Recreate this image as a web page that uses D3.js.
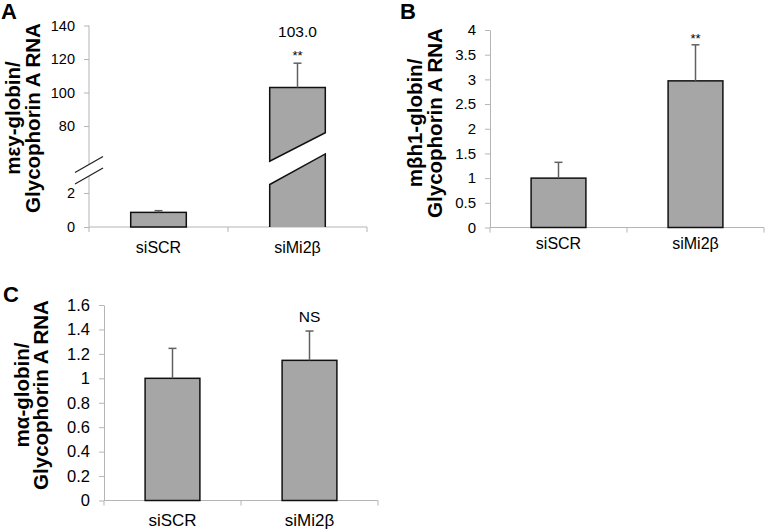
<!DOCTYPE html>
<html>
<head>
<meta charset="utf-8">
<script src="https://cdn.jsdelivr.net/npm/d3@7"></script>
<style>
  body { margin: 0; background: #fff; }
  svg text { font-family: "Liberation Sans", Arial, sans-serif; fill: #000; }
  .axis path, .axis line { stroke: #b5b5b5; }
</style>
</head>
<body>
<div id="chart"></div>
<script>
var categories = ["siSCR", "siMi2β"];

// panel A : mεy-globin (broken axis)
var epsValues = [0.86, 103.0];
var epsErrors = [0.1, 14.5];
var epsTicksLow = [0, 2];
var epsTicksHigh = [80, 100, 120, 140];
var epsNotes = ["", "**"];

// panel B : mβh1-globin
var bh1Values = [1.0, 2.97];
var bh1Errors = [0.32, 0.73];
var bh1Ticks = [0, 0.5, 1, 1.5, 2, 2.5, 3, 3.5, 4];
var bh1Notes = ["", "**"];

// panel C : mα-globin
var alphaValues = [1.0, 1.147];
var alphaErrors = [0.245, 0.24];
var alphaTicks = [0, 0.2, 0.4, 0.6, 0.8, 1, 1.2, 1.4, 1.6];
var alphaNotes = ["", "NS"];

var W = 765, H = 530;
var svg = d3.select("#chart").append("svg")
    .attr("width", W)
    .attr("height", H);

function xAxisLine(g, x, y0) {
  var r = x.range();
  g.append("line")
    .attr("x1", r[0]).attr("x2", r[1])
    .attr("y1", y0).attr("y2", y0)
    .attr("stroke", "#b5b5b5");
  var bounds = [r[0], r[0] + x.step(), r[1]];
  g.selectAll(".xt").data(bounds).enter().append("line")
    .attr("x1", d => d).attr("x2", d => d)
    .attr("y1", y0).attr("y2", y0 + 5)
    .attr("stroke", "#b5b5b5");
}

function xLabels(g, x, y0, off, size) {
  g.selectAll(".xl").data(categories).enter().append("text")
    .attr("x", d => x(d) + x.bandwidth() / 2)
    .attr("y", y0 + off)
    .attr("text-anchor", "middle")
    .style("font-size", size)
    .text(d => d);
}

function yTitle(g, lines, cy, x1, x2) {
  [x1, x2].forEach(function (bx, i) {
    g.append("text")
      .attr("transform", "translate(" + bx + "," + cy + ") rotate(-90)")
      .attr("text-anchor", "middle")
      .style("font-size", "20.5px")
      .style("font-weight", "bold")
      .text(lines[i]);
  });
}

function panelLetter(txt, x, y) {
  svg.append("text")
    .attr("x", x).attr("y", y)
    .style("font-size", "22px")
    .style("font-weight", "bold")
    .text(txt);
}

function errorBars(g, x, yFor, values, errors) {
  categories.forEach(function (c, i) {
    var cx = x(c) + x.bandwidth() / 2;
    var y = yFor(i);
    var top = y(values[i] + errors[i]);
    g.append("line")
      .attr("x1", cx).attr("x2", cx)
      .attr("y1", y(values[i])).attr("y2", top)
      .attr("stroke", "#606060").attr("stroke-width", 1.5);
    g.append("line")
      .attr("x1", cx - 4).attr("x2", cx + 4)
      .attr("y1", top).attr("y2", top)
      .attr("stroke", "#606060").attr("stroke-width", 1.5);
  });
}

function notes(g, x, yFor, values, errors, txt, size, gap) {
  categories.forEach(function (c, i) {
    if (!txt[i]) return;
    var y = yFor(i);
    g.append("text")
      .attr("x", x(c) + x.bandwidth() / 2)
      .attr("y", y(values[i] + errors[i]) - gap)
      .attr("text-anchor", "middle")
      .style("font-size", size)
      .text(txt[i]);
  });
}

// simple bar panel (B and C)
function simplePanel(opt) {
  var g = svg.append("g");
  var x = d3.scaleBand().domain(categories)
      .range([opt.left, opt.right])
      .paddingInner(0.6).paddingOuter(0.3);
  var y = d3.scaleLinear().domain([0, d3.max(opt.ticks)])
      .range([opt.bottom, opt.top]);

  g.append("g")
    .attr("class", "axis")
    .attr("transform", "translate(" + opt.left + ",0)")
    .call(d3.axisLeft(y).tickValues(opt.ticks).tickSize(5).tickSizeOuter(0)
      .tickPadding(9).tickFormat(d => String(d)))
    .selectAll("text").style("font-size", opt.tickSize);

  xAxisLine(g, x, opt.bottom);

  g.selectAll(".bar").data(opt.values).enter().append("rect")
    .attr("x", (d, i) => x(categories[i]))
    .attr("width", x.bandwidth())
    .attr("y", d => y(d))
    .attr("height", d => opt.bottom - y(d))
    .attr("fill", "#a6a6a6")
    .attr("stroke", "#111")
    .attr("stroke-width", 1.5);

  errorBars(g, x, () => y, opt.values, opt.errors);
  notes(g, x, () => y, opt.values, opt.errors, opt.notes, opt.noteSize, opt.noteGap);
  xLabels(g, x, opt.bottom, opt.labelOff, opt.labelSize);
  yTitle(g, opt.title, opt.titleY, opt.titleX[0], opt.titleX[1]);
}

// ---------- panel A (broken axis) ----------
(function () {
  var g = svg.append("g");
  var left = 89, right = 367, bottom = 227;
  var x = d3.scaleBand().domain(categories)
      .range([left, right])
      .paddingInner(0.6).paddingOuter(0.3);
  var yLow = d3.scaleLinear().domain([0, 4]).range([bottom, 159]);
  var yHigh = d3.scaleLinear().domain([60, 140]).range([159.5, 25.5]);
  var yFor = i => (epsValues[i] > 50 ? yHigh : yLow);

  [[yLow, epsTicksLow], [yHigh, epsTicksHigh]].forEach(function (p) {
    g.append("g")
      .attr("class", "axis")
      .attr("transform", "translate(" + left + ",0)")
      .call(d3.axisLeft(p[0]).tickValues(p[1]).tickSize(5).tickPadding(9).tickFormat(d => String(d)))
      .call(a => a.select(".domain").remove())
      .selectAll("text").style("font-size", "14.5px");
  });

  // axis line in two pieces with the break marks
  g.append("line").attr("x1", left).attr("x2", left)
    .attr("y1", yHigh(140)).attr("y2", yHigh(57))
    .attr("stroke", "#b5b5b5");
  g.append("line").attr("x1", left).attr("x2", left)
    .attr("y1", yLow(0)).attr("y2", yLow(3))
    .attr("stroke", "#b5b5b5");
  [yHigh(57), yLow(3)].forEach(function (yy) {
    g.append("line")
      .attr("x1", left - 14).attr("y1", yy + 8)
      .attr("x2", left + 14).attr("y2", yy - 8)
      .attr("stroke", "#222").attr("stroke-width", 1.2);
  });

  xAxisLine(g, x, bottom);

  var bw = x.bandwidth();
  categories.forEach(function (c, i) {
    var x0 = x(c), x1 = x0 + bw, v = epsValues[i];
    if (v < 50) {
      g.append("rect")
        .attr("x", x0).attr("width", bw)
        .attr("y", yLow(v)).attr("height", bottom - yLow(v))
        .attr("fill", "#a6a6a6").attr("stroke", "#111").attr("stroke-width", 1.5);
    } else {
      // lower piece, slanted top
      g.append("path")
        .attr("d", d3.line()([[x0, bottom], [x0, yLow(2.5)], [x1, yLow(4.3)], [x1, bottom]]))
        .attr("fill", "#a6a6a6").attr("stroke", "#111").attr("stroke-width", 1.5);
      // upper piece, slanted bottom
      g.append("path")
        .attr("d", d3.line()([[x0, yHigh(59)], [x0, yHigh(v)], [x1, yHigh(v)], [x1, yHigh(76)]]) + "Z")
        .attr("fill", "#a6a6a6").attr("stroke", "#111").attr("stroke-width", 1.5);
      g.append("text")
        .attr("x", x0 + bw / 2).attr("y", 37)
        .attr("text-anchor", "middle")
        .style("font-size", "15.5px")
        .text(v.toFixed(1));
    }
  });

  errorBars(g, x, yFor, epsValues, epsErrors);
  notes(g, x, yFor, epsValues, epsErrors, epsNotes, "13px", 3);
  xLabels(g, x, bottom, 26, "16px");
  yTitle(g, ["mεy-globin/", "Glycophorin A RNA"], 118, 20, 40);
})();

simplePanel({
  left: 490, right: 764, top: 30, bottom: 227.5,
  ticks: bh1Ticks, values: bh1Values, errors: bh1Errors, notes: bh1Notes,
  tickSize: "15px", labelSize: "16px",
  noteSize: "13px", noteGap: 2, labelOff: 21,
  title: ["mβh1-globin/", "Glycophorin A RNA"], titleX: [422, 442], titleY: 123
});

simplePanel({
  left: 104, right: 378, top: 305, bottom: 500.5,
  ticks: alphaTicks, values: alphaValues, errors: alphaErrors, notes: alphaNotes,
  tickSize: "16.5px", labelSize: "17px",
  noteSize: "15.5px", noteGap: 9, labelOff: 25,
  title: ["mα-globin/", "Glycophorin A RNA"], titleX: [29, 48], titleY: 395
});

panelLetter("A", 1, 19);
panelLetter("B", 400, 19);
panelLetter("C", 3, 302);
</script>
</body>
</html>
